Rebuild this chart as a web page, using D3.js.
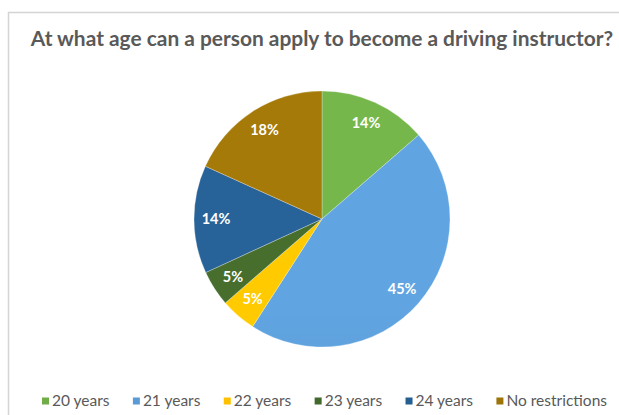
<!DOCTYPE html>
<html><head><meta charset="utf-8">
<script src="https://cdn.jsdelivr.net/npm/d3@7"></script>
<style>html,body{margin:0;padding:0;background:#fff;}svg{display:block;}</style>
</head><body>
<svg id="chart" width="619" height="415"></svg>
<script>
const title = "At what age can a person apply to become a driving instructor?";
const categories = ["20 years", "21 years", "22 years", "23 years", "24 years", "No restrictions"];
const shares = [13.6, 45.4, 4.5, 4.5, 13.6, 18.2];
const colors = ["#70ad47", "#5b9bd5", "#ffc000", "#43682b", "#255e91", "#9c7409"];

const svg = d3.select("#chart");
const font = "Lato, 'Open Sans', sans-serif";

// frame
svg.append("rect").attr("x", 8.5).attr("y", 12.5).attr("width", 700).attr("height", 500)
  .attr("fill", "#fff").attr("stroke", "#d4d4d4").attr("stroke-width", 1.5);

// title
const t = svg.append("text").attr("x", 322).attr("y", 46).attr("text-anchor", "middle")
  .attr("font-family", font).attr("font-weight", "bold").attr("font-size", 18)
  .attr("fill", "#595959").text(title);
const tw = t.node().getComputedTextLength();
t.attr("font-size", 18 * 583 / tw);

// pie
const cx = 322, cy = 219, R = 128;
const defs = svg.append("defs");
colors.forEach((c, i) => {
  const g = defs.append("linearGradient").attr("id", "g" + i)
    .attr("gradientUnits", "userSpaceOnUse")
    .attr("x1", 0).attr("y1", cy - R).attr("x2", 0).attr("y2", cy + R);
  g.append("stop").attr("offset", "0").attr("stop-color", d3.color(c).brighter(0.15));
  g.append("stop").attr("offset", "1").attr("stop-color", d3.color(c).darker(0.12));
});
const pie = d3.pie().sort(null).value(d => d)(shares);
const arc = d3.arc().innerRadius(0).outerRadius(R);
const labelArc = d3.arc().innerRadius(106).outerRadius(106);
const gp = svg.append("g").attr("transform", `translate(${cx},${cy})`);
gp.selectAll("path").data(pie).join("path")
  .attr("d", arc)
  .attr("fill", (d, i) => `url(#g${i})`)
  .attr("stroke", "rgba(255,255,255,0.35)").attr("stroke-width", 0.8);
gp.selectAll("text").data(pie).join("text")
  .attr("transform", d => `translate(${labelArc.centroid(d)})`)
  .attr("text-anchor", "middle").attr("dy", "0.35em")
  .attr("font-family", font).attr("font-weight", "bold").attr("font-size", 14.5)
  .attr("fill", "#ffffff")
  .text(d => Math.round(d.data) + "%");

// legend
const lg = svg.append("g");
const sq = 7, gapText = 3;
const items = categories.map((c, i) => {
  const it = lg.append("g");
  it.append("rect").attr("x", 0).attr("y", -sq / 2).attr("width", sq).attr("height", sq).attr("fill", colors[i]);
  const tx = it.append("text").attr("x", sq + gapText).attr("y", 0).attr("dy", "0.35em")
    .attr("font-family", font).attr("font-size", 15.5).attr("fill", "#595959").text(c);
  return {g: it, w: sq + gapText + tx.node().getComputedTextLength()};
});
const targetW = 565;
const sumW = d3.sum(items, d => d.w);
const gapItem = (targetW - sumW) / (items.length - 1);
let x = 0;
items.forEach(d => { d.g.attr("transform", `translate(${x},0)`); x += d.w + gapItem; });
lg.attr("transform", `translate(${42},401)`);
</script>
</body></html>
